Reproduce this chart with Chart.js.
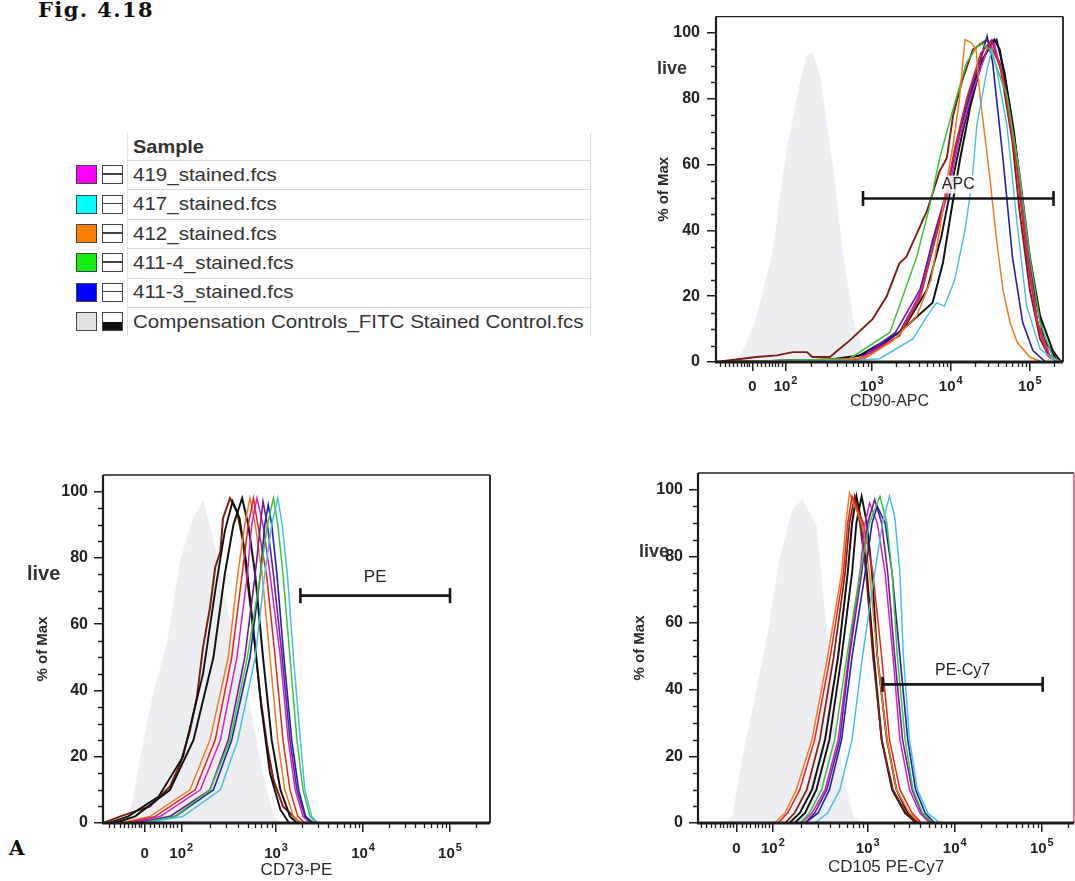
<!DOCTYPE html>
<html>
<head>
<meta charset="utf-8">
<script src="https://cdn.jsdelivr.net/npm/chart.js@4/dist/chart.umd.min.js"></script>
<style>
html,body{margin:0;padding:0;background:#fff;overflow:hidden;}
#page{position:relative;width:1075px;height:881px;overflow:hidden;background:#fff;font-family:'Liberation Sans',Arial,Helvetica,sans-serif;color:#2a2a2a;}
canvas{position:absolute;}
.txt{position:absolute;white-space:nowrap;}
.fig{font-family:'DejaVu Serif',serif;font-weight:bold;color:#111;}
.live{font-weight:bold;color:#333;}
#legend{position:absolute;left:0;top:0;}
.row{position:absolute;left:127px;width:463px;border-top:1px solid #d9d9d9;}
.sw{position:absolute;box-sizing:border-box;border:1.5px solid #444;}
.sw2{position:absolute;box-sizing:border-box;border:1.5px solid #444;background:#fff;}
.sw2 .mid{position:absolute;left:0;right:0;top:7px;height:1.5px;background:#444;}
.sw2 .half{position:absolute;left:0;right:0;bottom:0;height:8px;background:#111;}
.ltext{position:absolute;white-space:nowrap;font-size:19px;color:#333;transform-origin:left center;transform:scaleX(1.08);}
</style>
</head>
<body>
<div id="page">
  <div class="txt fig" style="left:38px;top:-1px;font-size:21px;line-height:21px;letter-spacing:1.4px;">Fig. 4.18</div>
  <div class="txt fig" style="left:9px;top:838px;font-size:20px;line-height:20px;">A</div>
  <div id="legend"></div>
  <canvas id="c1" width="470" height="430" style="left:600px;top:0px;"></canvas>
  <canvas id="c2" width="500" height="441" style="left:0px;top:440px;"></canvas>
  <canvas id="c3" width="485" height="441" style="left:590px;top:440px;"></canvas>
  <div class="txt live" style="left:657px;top:57px;font-size:18px;line-height:22px;">live</div>
  <div class="txt live" style="left:27px;top:561px;font-size:20px;line-height:24px;">live</div>
  <div class="txt live" style="left:639px;top:540px;font-size:18px;line-height:22px;">live</div>
</div>
<script>
// ---------- legend ----------
const legendHeader = 'Sample';
const legendNames = ['419_stained.fcs','417_stained.fcs','412_stained.fcs','411-4_stained.fcs','411-3_stained.fcs','Compensation Controls_FITC Stained Control.fcs'];
const legendColors = ['#ff00ff','#00ffff','#ff8000','#11ee11','#0000ff','#e2e2e2'];

// ---------- axes ----------
const xTickPos = [1.49, 1.91, 3, 4, 5];
const xTickBase = ['0', '10', '10', '10', '10'];
const xTickExp = ['', '2', '3', '4', '5'];
const yTickVals = [0, 20, 40, 60, 80, 100];
const yMinorTicks = [5,10,15,25,30,35,45,50,55,65,70,75,85,90,95];
const xLinearMinor = [1.08,1.14,1.2,1.25,1.3,1.34,1.38,1.42,1.45,1.55,1.6,1.65,1.7,1.74,1.78,1.82,1.86];
const panelTitles = ['CD90-APC', 'CD73-PE', 'CD105 PE-Cy7'];
const yTitle = '% of Max';
const gateNames = ['APC', 'PE', 'PE-Cy7'];
// gate: [from, to, level]  (x in decade-position units)
const gateCD90 = [2.89, 5.30, 49.7];
const gateCD73 = [3.28, 5.00, 68.6];
const gateCD105 = [3.17, 5.01, 41.6];

// ---------- CD90-APC (x = display decade position, y = % of Max) ----------
const cd90Control = [[1.25,0],[1.37,3],[1.54,13],[1.75,33],[1.92,63],[2.09,84],[2.18,93],[2.25,94],[2.34,87],[2.43,72],[2.51,58],[2.63,33],[2.76,13],[2.89,3],[3.0,0]];
const cd90_419 = [[1.03,0],[2.85,1],[3.35,8],[3.63,22],[3.80,37],[3.97,52],[4.10,67],[4.26,81],[4.46,95],[4.55,97],[4.71,81],[4.84,62],[4.98,32],[5.10,12],[5.25,2],[5.40,0]];
const cd90_417 = [[1.03,0],[2.8,0.5],[3.10,1],[3.52,7],[3.73,15],[3.82,18],[3.92,17],[4.05,25],[4.18,40],[4.27,55],[4.33,72],[4.46,89],[4.52,95],[4.58,89],[4.71,72],[4.84,42],[4.96,17],[5.13,4],[5.29,1],[5.40,0]];
const cd90_412 = [[1.03,0],[2.6,0.5],[2.94,1.5],[3.27,6.5],[3.57,14],[3.75,25],[3.86,40],[3.95,55],[4.03,66],[4.11,80],[4.18,98],[4.26,97],[4.32,95],[4.37,81],[4.49,57],[4.58,37],[4.66,22],[4.75,12],[4.84,6],[5.0,1.5],[5.15,0],[5.42,0]];
const cd90_411_4 = [[1.03,0],[2.72,1],[3.23,9],[3.35,17],[3.57,32],[3.73,47],[3.86,62],[4.03,77],[4.20,91],[4.37,97],[4.5,95],[4.71,81],[4.87,57],[5.0,32],[5.13,12],[5.29,1.5],[5.38,0]];
const cd90_411_3 = [[1.03,0],[2.85,1],[3.35,9],[3.6,20],[3.77,37],[3.95,52],[4.08,67],[4.24,81],[4.41,95],[4.46,99],[4.53,91],[4.66,62],[4.78,32],[4.91,12],[5.04,3.5],[5.2,0],[5.42,0]];
const cd90_darkred = [[1.03,0],[1.54,1.5],[1.80,2],[2.0,3],[2.18,3],[2.25,1.5],[2.47,1.5],[2.72,6.5],[3.01,13],[3.19,20],[3.35,30],[3.44,32],[3.70,46],[3.86,58],[3.95,62],[4.03,75],[4.15,86],[4.28,95],[4.46,98],[4.62,91],[4.78,67],[4.87,46],[5.0,22],[5.13,7],[5.25,1.5],[5.38,0]];
const cd90_red = [[1.03,0],[2.9,1],[3.35,8],[3.62,20],[3.78,35],[3.93,50],[4.05,65],[4.2,80],[4.38,94],[4.5,97],[4.65,88],[4.82,62],[4.95,35],[5.08,13],[5.22,2],[5.35,0]];
const cd90_purple = [[1.03,0],[2.85,1],[3.30,9],[3.61,22],[3.78,37],[3.95,52],[4.08,67],[4.22,81],[4.42,95],[4.52,98],[4.68,85],[4.84,60],[4.96,32],[5.1,12],[5.25,2],[5.38,0]];
const cd90_black1 = [[1.03,0],[2.4,0.5],[2.85,2],[3.35,9],[3.77,18],[3.9,30],[4.0,45],[4.12,62],[4.25,78],[4.4,92],[4.55,98],[4.62,95],[4.75,77],[4.87,57],[5.0,32],[5.13,14],[5.29,3.5],[5.38,0.5],[5.42,0]];
const cd90_black2 = [[1.03,0],[2.6,0.5],[3.0,3],[3.4,10],[3.7,22],[3.88,38],[4.02,55],[4.15,70],[4.3,85],[4.48,96],[4.58,98],[4.68,88],[4.8,70],[4.92,45],[5.05,22],[5.18,7],[5.33,1],[5.42,0]];

// ---------- CD73-PE ----------
const cd73Control = [[1.2,0],[1.32,2],[1.44,19],[1.59,39],[1.75,54],[1.90,79],[2.05,92],[2.16,97],[2.28,85],[2.44,64],[2.59,49],[2.74,29],[2.85,14],[2.97,2],[3.05,0]];
const cd73_darkred = [[1.01,0],[1.21,2],[1.55,5],[1.78,11],[1.90,18],[2.01,28],[2.09,38],[2.16,53],[2.24,65],[2.30,77],[2.36,82],[2.39,92],[2.47,98],[2.55,94],[2.62,85],[2.67,73],[2.74,58],[2.82,38],[2.90,23],[2.97,13],[3.08,5],[3.20,2],[3.28,0],[5.45,0]];
const cd73_black1 = [[1.01,0],[1.15,0],[1.38,2],[1.78,10],[2.05,25],[2.28,50],[2.41,75],[2.51,90],[2.61,98],[2.68,90],[2.76,75],[2.85,50],[2.95,25],[3.05,10],[3.16,2],[3.24,0],[5.45,0]];
const cd73_412 = [[1.01,0],[1.21,0],[1.55,2],[2.01,10],[2.24,25],[2.45,50],[2.56,75],[2.64,90],[2.70,98],[2.76,90],[2.84,75],[2.93,50],[3.02,25],[3.10,10],[3.20,2],[3.28,0],[5.45,0]];
const cd73_red = [[1.01,0],[1.26,0],[1.61,2],[2.07,10],[2.30,25],[2.49,50],[2.61,75],[2.68,90],[2.74,98],[2.79,90],[2.89,75],[2.99,50],[3.08,25],[3.16,10],[3.25,2],[3.33,0],[5.45,0]];
const cd73_419 = [[1.01,0],[1.32,0],[1.67,2],[2.13,10],[2.36,25],[2.55,50],[2.67,75],[2.72,90],[2.78,98],[2.85,90],[2.93,75],[3.05,50],[3.14,25],[3.22,10],[3.31,2],[3.39,0],[5.45,0]];
const cd73_purple = [[1.01,0],[1.38,0],[1.78,2],[2.24,10],[2.45,25],[2.64,50],[2.76,75],[2.82,90],[2.85,97],[2.90,90],[2.97,75],[3.07,50],[3.16,25],[3.24,10],[3.33,2],[3.41,0],[5.45,0]];
const cd73_411_3 = [[1.01,0],[1.44,0],[1.84,2],[2.28,10],[2.49,25],[2.70,50],[2.82,75],[2.87,90],[2.91,96],[2.95,90],[3.01,75],[3.09,50],[3.18,25],[3.26,10],[3.34,2],[3.43,0],[5.45,0]];
const cd73_411_4 = [[1.01,0],[1.44,0],[1.84,2],[2.24,10],[2.47,25],[2.67,50],[2.82,75],[2.90,90],[2.97,98],[3.02,90],[3.08,75],[3.16,50],[3.24,25],[3.31,10],[3.39,2],[3.46,0],[5.45,0]];
const cd73_417 = [[1.01,0],[1.49,0],[1.93,2],[2.36,10],[2.56,25],[2.76,50],[2.87,75],[2.95,90],[3.02,98],[3.07,90],[3.13,75],[3.20,50],[3.28,25],[3.33,10],[3.41,2],[3.48,0],[5.45,0]];
const cd73_black2 = [[1.01,0],[1.08,0],[1.30,2],[1.65,8],[1.93,20],[2.16,45],[2.30,70],[2.41,88],[2.50,97],[2.58,92],[2.66,78],[2.74,58],[2.83,35],[2.93,15],[3.05,4],[3.15,0],[5.45,0]];

// ---------- CD105 PE-Cy7 ----------
const cd105Control = [[1.35,0],[1.45,2],[1.56,19],[1.72,39],[1.87,59],[1.99,79],[2.14,94],[2.25,97],[2.41,89],[2.48,69],[2.56,49],[2.64,29],[2.71,14],[2.83,2],[2.91,0]];
const cd105_412 = [[1.05,0],[1.93,0],[2.05,3],[2.18,10],[2.36,25],[2.54,50],[2.70,75],[2.75,90],[2.79,99],[2.93,90],[3.02,75],[3.11,50],[3.22,25],[3.33,10],[3.48,3],[3.60,0],[5.37,0]];
const cd105_red = [[1.05,0],[1.97,0],[2.08,3],[2.22,10],[2.39,25],[2.57,50],[2.72,75],[2.77,90],[2.82,98],[2.95,90],[3.06,75],[3.16,50],[3.25,25],[3.37,10],[3.51,3],[3.62,0],[5.37,0]];
const cd105_black1 = [[1.05,0],[2.10,0],[2.22,3],[2.36,10],[2.51,25],[2.66,50],[2.77,75],[2.82,90],[2.87,98],[2.93,90],[2.99,75],[3.07,50],[3.16,25],[3.28,10],[3.43,3],[3.56,0],[5.37,0]];
const cd105_black2 = [[1.05,0],[2.16,0],[2.28,3],[2.41,10],[2.56,25],[2.70,50],[2.82,75],[2.87,90],[2.93,98],[2.99,90],[3.05,75],[3.11,50],[3.22,25],[3.33,10],[3.46,3],[3.60,0],[5.37,0]];
const cd105_411_4 = [[1.05,0],[2.22,0],[2.33,3],[2.47,10],[2.62,25],[2.76,50],[2.91,75],[3.02,90],[3.14,98],[3.22,90],[3.28,75],[3.34,50],[3.43,25],[3.52,10],[3.63,3],[3.75,0],[5.37,0]];
const cd105_purple = [[1.05,0],[2.28,0],[2.39,3],[2.53,10],[2.68,25],[2.79,50],[2.93,75],[3.00,90],[3.08,97],[3.16,90],[3.23,75],[3.31,50],[3.40,25],[3.51,10],[3.62,3],[3.74,0],[5.37,0]];
const cd105_419 = [[1.05,0],[2.24,0],[2.36,3],[2.51,10],[2.66,25],[2.78,50],[2.91,75],[2.97,90],[3.02,96],[3.11,90],[3.20,75],[3.29,50],[3.37,25],[3.48,10],[3.60,3],[3.71,0],[5.37,0]];
const cd105_411_3 = [[1.05,0],[2.28,0],[2.43,3],[2.56,10],[2.70,25],[2.82,50],[2.97,75],[3.05,90],[3.11,95],[3.20,90],[3.28,75],[3.37,50],[3.46,25],[3.55,10],[3.66,3],[3.77,0],[5.37,0]];
const cd105_417 = [[1.05,0],[2.39,0],[2.54,3],[2.68,10],[2.82,25],[2.94,50],[3.08,75],[3.17,90],[3.25,98],[3.31,92],[3.37,75],[3.41,50],[3.48,25],[3.57,10],[3.69,3],[3.83,0],[5.37,0]];
const cd105_darkred = [[1.05,0],[2.05,0],[2.16,3],[2.30,10],[2.45,25],[2.61,50],[2.74,75],[2.79,90],[2.85,98],[2.91,90],[2.98,75],[3.06,50],[3.16,25],[3.29,10],[3.44,3],[3.57,0],[5.37,0]];

// ---------- styling ----------
const C = {
  magenta:'#cf22c6', cyan:'#45bfe4', orange:'#f47a1e', green:'#3cc43c', blue:'#1f22a6',
  darkred:'#7e1d12', red:'#e3261c', purple:'#6e1d98', black:'#121212', control:'#eceef2'
};
const FONT = "'Liberation Sans', Arial, Helvetica, sans-serif";
Chart.defaults.font.family = FONT;
Chart.defaults.color = '#222';

// legend (HTML)
(function buildLegend(){
  const L = document.getElementById('legend');
  const top0 = 133, headH = 27, rowH = 29.4;
  const h = document.createElement('div');
  h.className = 'txt';
  h.style.cssText = `left:133px;top:${top0+2}px;font-size:19px;line-height:24px;font-weight:bold;color:#333;transform-origin:left center;transform:scaleX(1.05);`;
  h.textContent = legendHeader;
  L.appendChild(h);
  const vline = document.createElement('div');
  vline.style.cssText = `position:absolute;left:127px;top:${top0}px;width:1px;height:${headH+rowH*6}px;background:#e2e2e2;`;
  L.appendChild(vline);
  const rline = document.createElement('div');
  rline.style.cssText = `position:absolute;left:590px;top:${top0}px;width:1px;height:${headH+rowH*6}px;background:#d9d9d9;`;
  L.appendChild(rline);
  legendNames.forEach((name, i) => {
    const rt = top0 + headH + rowH*i;
    const row = document.createElement('div');
    row.className = 'row';
    row.style.top = rt + 'px';
    row.style.height = rowH + 'px';
    L.appendChild(row);
    const cy = rt + rowH/2;
    const sw = document.createElement('div');
    sw.className = 'sw';
    sw.style.cssText += `left:76px;top:${cy-9.5}px;width:21px;height:19px;background:${legendColors[i]};`;
    L.appendChild(sw);
    const s2 = document.createElement('div');
    s2.className = 'sw2';
    s2.style.cssText += `left:102px;top:${cy-9.5}px;width:21px;height:19px;`;
    s2.innerHTML = (i === legendNames.length-1) ? '<div class="half"></div>' : '<div class="mid"></div>';
    L.appendChild(s2);
    const t = document.createElement('div');
    t.className = 'ltext';
    t.style.left = '133px';
    t.style.top = (cy - 12) + 'px';
    t.style.lineHeight = '24px';
    t.textContent = name;
    L.appendChild(t);
  });
})();

const xMinorTicks = (() => {
  const out = xLinearMinor.slice();
  for (let k = 2; k <= 9; k++) out.push(1.91 + 1.09 * Math.log10(k));
  for (let d = 3; d <= 5; d++) for (let k = 2; k <= 9; k++) out.push(d + Math.log10(k));
  return out;
})();

const framePlugin = {
  id: 'frame',
  afterDatasetsDraw(chart, args, o) {
    const {ctx, chartArea: a, scales: {x, y}} = chart;
    ctx.save();
    ctx.strokeStyle = '#1c1c1c';
    ctx.lineWidth = 1.3;
    ctx.beginPath();
    yMinorTicks.forEach(v => { const p = Math.round(y.getPixelForValue(v)) + 0.5; ctx.moveTo(a.left - 5, p); ctx.lineTo(a.left, p); });
    xMinorTicks.forEach(v => { if (v <= x.min || v >= x.max) return; const p = Math.round(x.getPixelForValue(v)) + 0.5; ctx.moveTo(p, a.bottom); ctx.lineTo(p, a.bottom + 5); });
    ctx.stroke();
    // top border
    ctx.lineWidth = 1.4;
    ctx.beginPath(); ctx.moveTo(a.left, a.top); ctx.lineTo(a.right, a.top); ctx.stroke();
    // right border
    ctx.strokeStyle = o.rightColor || '#1c1c1c';
    ctx.lineWidth = 1.8;
    ctx.beginPath(); ctx.moveTo(a.right, a.top); ctx.lineTo(a.right, a.bottom); ctx.stroke();
    // left axis
    ctx.strokeStyle = '#1c1c1c';
    ctx.lineWidth = 2.2;
    ctx.beginPath(); ctx.moveTo(a.left, a.top); ctx.lineTo(a.left, a.bottom + 1); ctx.stroke();
    // bottom axis
    ctx.lineWidth = 2.8;
    ctx.beginPath(); ctx.moveTo(a.left - 1, a.bottom); ctx.lineTo(a.right, a.bottom); ctx.stroke();
    // x tick labels with superscript exponents
    ctx.fillStyle = '#222';
    ctx.textBaseline = 'middle';
    ctx.textAlign = 'left';
    const ly = a.bottom + o.tickLabelDy;
    xTickPos.forEach((v, i) => {
      const px = x.getPixelForValue(v);
      ctx.font = `bold 15px ${FONT}`;
      const wb = ctx.measureText(xTickBase[i]).width;
      ctx.font = `bold 11px ${FONT}`;
      const we = xTickExp[i] ? ctx.measureText(xTickExp[i]).width + 1 : 0;
      const x0 = px - (wb + we) / 2;
      ctx.font = `bold 15px ${FONT}`;
      ctx.fillText(xTickBase[i], x0, ly);
      if (xTickExp[i]) {
        ctx.font = `bold 11px ${FONT}`;
        ctx.fillText(xTickExp[i], x0 + wb + 1, ly - 6);
      }
    });
    // gate label
    const g = o.gate;
    const gx = x.getPixelForValue((g[0] + g[1]) / 2);
    const gy = y.getPixelForValue(g[2]) - o.labelOffset;
    ctx.font = `${o.labelSize}px ${FONT}`;
    ctx.textAlign = 'center'; ctx.textBaseline = 'middle';
    if (o.labelBg) {
      const w = ctx.measureText(o.label).width;
      ctx.fillStyle = 'rgba(255,255,255,0.85)';
      ctx.fillRect(gx - w/2 - 2, gy - o.labelSize/2 - 1, w + 4, o.labelSize + 2);
    }
    ctx.fillStyle = '#222';
    ctx.fillText(o.label, gx, gy);
    ctx.restore();
  }
};

const toXY = arr => arr.map(p => ({x: p[0], y: p[1]}));

function makePanel(id, cfg) {
  const datasets = [];
  const g = cfg.gate;
  datasets.push({
    data: toXY([[g[0], g[2]], [g[1], g[2]]]),
    borderColor: '#161616', borderWidth: 2.6,
    pointStyle: 'line', pointRotation: 90, pointRadius: 7.5, pointHoverRadius: 7.5,
    pointBorderColor: '#161616', pointBorderWidth: 2.6, order: 0
  });
  cfg.lines.forEach(([data, color, w]) => datasets.push({
    data: toXY(data), borderColor: color, borderWidth: w, pointRadius: 0,
    fill: false, tension: 0, order: 5
  }));
  datasets.push({
    data: toXY(cfg.control), borderColor: C.control, backgroundColor: C.control,
    borderWidth: 1, pointRadius: 0, fill: 'origin', tension: 0, order: 10
  });
  new Chart(document.getElementById(id), {
    type: 'line',
    data: {datasets},
    plugins: [framePlugin],
    options: {
      responsive: false, animation: false, events: [],
      layout: {autoPadding: false, padding: {top: cfg.padTop, right: cfg.padRight, left: 0, bottom: 0}},
      plugins: {
        legend: {display: false}, tooltip: {enabled: false},
        frame: {gate: g, label: cfg.gateLabel, labelOffset: cfg.labelOffset, labelSize: cfg.labelSize,
                labelBg: cfg.labelBg, rightColor: cfg.rightColor, tickLabelDy: cfg.tickLabelDy}
      },
      scales: {
        x: {
          type: 'linear', min: cfg.xMin, max: cfg.xMax,
          afterFit: s => { s.height = cfg.xH; },
          afterBuildTicks: s => { s.ticks = xTickPos.map(v => ({value: v})); },
          ticks: {autoSkip: false, maxRotation: 0, minRotation: 0, callback: () => ''},
          grid: {drawOnChartArea: false, drawTicks: true, tickLength: 9, color: '#1c1c1c', lineWidth: 1.5},
          border: {display: false},
          title: {display: true, text: cfg.xTitle, color: '#2a2a2a',
                  font: {size: cfg.xTitleSize}, padding: {top: 0, bottom: cfg.xTitlePad}}
        },
        y: {
          min: 0, max: 105,
          afterFit: s => { s.width = cfg.yW; },
          afterBuildTicks: s => { s.ticks = yTickVals.map(v => ({value: v})); },
          ticks: {padding: cfg.yTickPad, font: {size: 16, weight: 'bold'}, color: '#222',
                  callback: v => String(v)},
          grid: {drawOnChartArea: false, drawTicks: true, tickLength: 9, color: '#1c1c1c', lineWidth: 1.5},
          border: {display: false},
          title: {display: true, text: yTitle, color: '#2a2a2a',
                  font: {size: 15, weight: 'bold'}, padding: {top: cfg.yTitlePad, bottom: 0}}
        }
      }
    }
  });
}

makePanel('c1', {
  control: cd90Control,
  lines: [
    [cd90_417, C.cyan, 1.4], [cd90_412, C.orange, 1.5], [cd90_411_4, C.green, 1.5],
    [cd90_red, C.red, 1.5], [cd90_419, C.magenta, 1.5], [cd90_purple, C.purple, 1.6],
    [cd90_411_3, C.blue, 1.6], [cd90_black2, C.black, 1.9], [cd90_black1, C.black, 2.0],
    [cd90_darkred, C.darkred, 1.9]
  ],
  gate: gateCD90, gateLabel: gateNames[0], labelOffset: 14, labelSize: 16, labelBg: true,
  xMin: 1.03, xMax: 5.42, xH: 68, yW: 116, padTop: 7, padRight: 7,
  tickLabelDy: 25, yTickPad: 7, xTitle: panelTitles[0], xTitleSize: 16, xTitlePad: 19, yTitlePad: 55
});

makePanel('c2', {
  control: cd73Control,
  lines: [
    [cd73_417, C.cyan, 1.5], [cd73_411_4, C.green, 1.5], [cd73_411_3, C.blue, 1.6],
    [cd73_purple, C.purple, 1.6], [cd73_419, C.magenta, 1.5], [cd73_red, C.red, 1.5],
    [cd73_412, C.orange, 1.5], [cd73_black2, C.black, 1.9], [cd73_black1, C.black, 2.0],
    [cd73_darkred, C.darkred, 2.0]
  ],
  gate: gateCD73, gateLabel: gateNames[1], labelOffset: 18, labelSize: 17, labelBg: false,
  xMin: 1.01, xMax: 5.46, xH: 58, yW: 103, padTop: 35, padRight: 10,
  tickLabelDy: 31, yTickPad: 6, xTitle: panelTitles[1], xTitleSize: 17, xTitlePad: 0, yTitlePad: 34
});

makePanel('c3', {
  control: cd105Control,
  lines: [
    [cd105_417, C.cyan, 1.5], [cd105_411_4, C.green, 1.5], [cd105_411_3, C.blue, 1.6],
    [cd105_purple, C.purple, 1.6], [cd105_419, C.magenta, 1.5], [cd105_red, C.red, 1.5],
    [cd105_412, C.orange, 1.5], [cd105_darkred, C.darkred, 1.7], [cd105_black2, C.black, 1.9],
    [cd105_black1, C.black, 2.0]
  ],
  gate: gateCD105, gateLabel: gateNames[2], labelOffset: 14, labelSize: 16, labelBg: false,
  xMin: 1.05, xMax: 5.37, xH: 58, yW: 108, padTop: 33, padRight: 1, rightColor: '#e07090',
  tickLabelDy: 26, yTickPad: 6, xTitle: panelTitles[2], xTitleSize: 17, xTitlePad: 3, yTitlePad: 41
});
</script>
</body>
</html>
